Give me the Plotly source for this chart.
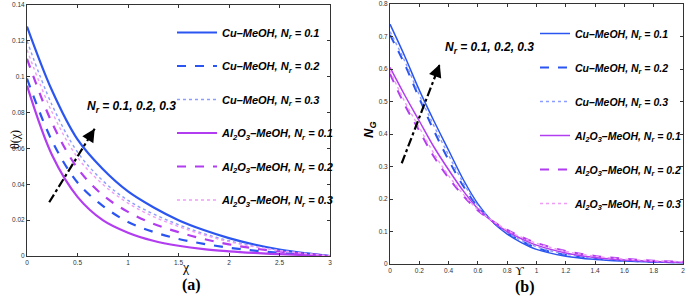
import plotly.graph_objects as go

# ---------------- data: panel (a) ----------------
chi = [0, 0.25, 0.5, 0.75, 1, 1.25, 1.5, 1.75, 2, 2.25, 2.5, 2.75, 3]
theta_cu_01 = [0.128, 0.092, 0.065, 0.0485, 0.036, 0.0272, 0.020, 0.0145, 0.0100, 0.0064, 0.0036, 0.0016, 0]
theta_cu_02 = [0.099, 0.064, 0.041, 0.028, 0.019, 0.0135, 0.0095, 0.0068, 0.0046, 0.003, 0.0018, 0.0008, 0]
theta_cu_03 = [0.120, 0.084, 0.058, 0.042, 0.031, 0.0235, 0.0175, 0.0125, 0.0085, 0.0055, 0.0032, 0.0015, 0]
theta_al_01 = [0.095, 0.056, 0.033, 0.020, 0.013, 0.0085, 0.0057, 0.0038, 0.0026, 0.0017, 0.001, 0.0005, 0]
theta_al_02 = [0.110, 0.074, 0.049, 0.034, 0.0246, 0.018, 0.0133, 0.0095, 0.0065, 0.0042, 0.0025, 0.0012, 0]
theta_al_03 = [0.115, 0.080, 0.055, 0.040, 0.0295, 0.022, 0.0165, 0.0118, 0.008, 0.0052, 0.003, 0.0014, 0]

# ---------------- data: panel (b) ----------------
ups = [0, 0.1, 0.2, 0.3, 0.4, 0.5, 0.6, 0.7, 0.8, 0.9, 1.0, 1.2, 1.4, 1.6, 1.8, 2.0]
ng_cu_01 = [0.738, 0.64, 0.535, 0.44, 0.35, 0.26, 0.185, 0.13, 0.092, 0.065, 0.045, 0.024, 0.014, 0.009, 0.006, 0.004]
ng_cu_02 = [0.705, 0.615, 0.51, 0.41, 0.32, 0.24, 0.175, 0.13, 0.095, 0.07, 0.05, 0.028, 0.017, 0.011, 0.007, 0.005]
ng_cu_03 = [0.715, 0.625, 0.52, 0.425, 0.335, 0.25, 0.18, 0.132, 0.097, 0.072, 0.053, 0.03, 0.018, 0.012, 0.008, 0.005]
ng_al_01 = [0.605, 0.52, 0.44, 0.36, 0.29, 0.225, 0.17, 0.13, 0.10, 0.077, 0.058, 0.034, 0.02, 0.012, 0.008, 0.005]
ng_al_02 = [0.585, 0.49, 0.41, 0.33, 0.265, 0.21, 0.165, 0.132, 0.105, 0.083, 0.065, 0.04, 0.025, 0.016, 0.01, 0.007]
ng_al_03 = [0.595, 0.50, 0.42, 0.34, 0.272, 0.215, 0.167, 0.133, 0.104, 0.082, 0.064, 0.039, 0.024, 0.015, 0.01, 0.007]

names = ["Cu–MeOH, N<sub>r</sub> = 0.1", "Cu–MeOH, N<sub>r</sub> = 0.2", "Cu–MeOH, N<sub>r</sub> = 0.3",
         "Al<sub>2</sub>O<sub>3</sub>–MeOH, N<sub>r</sub> = 0.1",
         "Al<sub>2</sub>O<sub>3</sub>–MeOH, N<sub>r</sub> = 0.2",
         "Al<sub>2</sub>O<sub>3</sub>–MeOH, N<sub>r</sub> = 0.3"]

# arrow (direction of increasing N_r) in data units
arrow_a_x = [0.22, 0.67]
arrow_a_y = [0.030, 0.071]
arrow_b_x = [0.08, 0.34]
arrow_b_y = [0.31, 0.615]

x_ticks_a = [0, 0.5, 1, 1.5, 2, 2.5, 3]
y_ticks_a = [0, 0.02, 0.04, 0.06, 0.08, 0.1, 0.12, 0.14]
x_ticks_b = [0, 0.2, 0.4, 0.6, 0.8, 1, 1.2, 1.4, 1.6, 1.8, 2]
y_ticks_b = [0, 0.1, 0.2, 0.3, 0.4, 0.5, 0.6, 0.7, 0.8]

BLUE = "#2b55f0"
BLUE_L = "#8c9cff"
MAG = "#b23cf0"
PINK = "#ef9cf7"

styles = [
    dict(color=BLUE, dash="solid"),
    dict(color=BLUE, dash="dash"),
    dict(color=BLUE_L, dash="dot"),
    dict(color=MAG, dash="solid"),
    dict(color=MAG, dash="dash"),
    dict(color=PINK, dash="dot"),
]

fig = go.Figure()

series_a = [theta_cu_01, theta_cu_02, theta_cu_03, theta_al_01, theta_al_02, theta_al_03]
series_b = [ng_cu_01, ng_cu_02, ng_cu_03, ng_al_01, ng_al_02, ng_al_03]

for i, (ys, st) in enumerate(zip(series_a, styles)):
    fig.add_trace(go.Scatter(
        x=chi, y=ys, mode="lines", name=names[i], line_shape="spline",
        line=dict(color=st["color"], dash=st["dash"], width=2.2 if st["dash"] != "dot" else 1.4),
        xaxis="x", yaxis="y", legend="legend", legendgroup="a%d" % i))

for i, (ys, st) in enumerate(zip(series_b, styles)):
    fig.add_trace(go.Scatter(
        x=ups, y=ys, mode="lines", name=names[i], line_shape="spline",
        line=dict(color=st["color"], dash=st["dash"], width=1.5 if st["dash"] == "solid" else (2.0 if st["dash"] == "dash" else 1.4)),
        xaxis="x2", yaxis="y2", legend="legend2", legendgroup="b%d" % i))

# arrows as dash-dot lines
fig.add_trace(go.Scatter(x=arrow_a_x, y=arrow_a_y, mode="lines", showlegend=False,
                         line=dict(color="black", dash="dashdot", width=2.2), xaxis="x", yaxis="y"))
fig.add_trace(go.Scatter(x=arrow_b_x, y=arrow_b_y, mode="lines", showlegend=False,
                         line=dict(color="black", dash="dashdot", width=2.2), xaxis="x2", yaxis="y2"))

ann = []
# arrow heads
ann.append(dict(x=arrow_a_x[1], y=arrow_a_y[1], ax=arrow_a_x[0] + (arrow_a_x[1] - arrow_a_x[0]) * 0.9,
                ay=arrow_a_y[0] + (arrow_a_y[1] - arrow_a_y[0]) * 0.9, xref="x", yref="y", axref="x", ayref="y",
                showarrow=True, arrowhead=2, arrowsize=1.3, arrowwidth=2, arrowcolor="black", text=""))
ann.append(dict(x=arrow_b_x[1], y=arrow_b_y[1], ax=arrow_b_x[0] + (arrow_b_x[1] - arrow_b_x[0]) * 0.9,
                ay=arrow_b_y[0] + (arrow_b_y[1] - arrow_b_y[0]) * 0.9, xref="x2", yref="y2", axref="x2", ayref="y2",
                showarrow=True, arrowhead=2, arrowsize=1.3, arrowwidth=2, arrowcolor="black", text=""))

lab_font = dict(family="Liberation Sans, Arial", size=12, color="black", weight="bold", style="italic")
ann.append(dict(x=0.575, y=0.083, xref="x", yref="y", xanchor="left", yanchor="middle", showarrow=False,
                text="N<sub>r</sub> = 0.1, 0.2, 0.3", font=lab_font))
ann.append(dict(x=0.36, y=0.665, xref="x2", yref="y2", xanchor="left", yanchor="middle", showarrow=False,
                text="N<sub>r</sub> = 0.1, 0.2, 0.3", font=lab_font))

# axis titles and captions
serif = "Liberation Serif, Times New Roman"
ann.append(dict(x=6 / 685, y=1 - 140 / 307, xref="paper", yref="paper", text="θ(χ)", textangle=-90,
                showarrow=False, font=dict(family=serif, size=12, color="black")))
ann.append(dict(x=180 / 685, y=1 - 277 / 307, xref="paper", yref="paper", text="χ",
                showarrow=False, font=dict(family=serif, size=14, color="black")))
ann.append(dict(x=369 / 685, y=1 - 130 / 307, xref="paper", yref="paper", text="N<sub>G</sub>", textangle=-90,
                showarrow=False, font=dict(family="Liberation Sans, Arial", size=13, color="black", weight="bold", style="italic")))
ann.append(dict(x=526 / 685, y=1 - 280 / 307, xref="paper", yref="paper", text="ϒ",
                showarrow=False, font=dict(family=serif, size=12, color="black")))
ann.append(dict(x=180 / 685, y=1 - 296 / 307, xref="paper", yref="paper", text="<b>(a)</b>",
                showarrow=False, font=dict(family=serif, size=16, color="black")))
ann.append(dict(x=537 / 685, y=1 - 298 / 307, xref="paper", yref="paper", text="<b>(b)</b>",
                showarrow=False, font=dict(family=serif, size=16, color="black")))

axis_common = dict(showline=True, mirror="ticks", linecolor="#333", linewidth=1, ticks="inside", ticklen=3,
                   tickcolor="#333", showgrid=False, zeroline=False, automargin=False,
                   ticklabeloverflow="allow",
                   tickfont=dict(family="Liberation Sans, Arial", size=6.5, color="#333"))

leg_font = dict(family="Liberation Sans, Arial", size=11, color="black", weight="bold", style="italic")
leg_font2 = dict(family="Liberation Sans, Arial", size=10.5, color="black", weight="bold", style="italic")

fig.update_layout(
    width=685, height=307, margin=dict(l=0, r=0, t=0, b=0, pad=0, autoexpand=False),
    paper_bgcolor="white", plot_bgcolor="white",
    xaxis=dict(domain=[27 / 685, 330 / 685], range=[0, 3], tickvals=x_ticks_a, anchor="y", **axis_common),
    yaxis=dict(domain=[1 - 256 / 307, 1 - 5 / 307], range=[0, 0.14], tickvals=y_ticks_a, anchor="x", **axis_common),
    xaxis2=dict(domain=[390 / 685, 683 / 685], range=[0, 2], tickvals=x_ticks_b, anchor="y2", **axis_common),
    yaxis2=dict(domain=[1 - 264 / 307, 1 - 4 / 307], range=[0, 0.8], tickvals=y_ticks_b, anchor="x2", **axis_common),
    legend=dict(x=172 / 685, y=1 - 18 / 307, xanchor="left", yanchor="top", bgcolor="rgba(0,0,0,0)",
                font=leg_font, tracegroupgap=14.5, itemwidth=40),
    legend2=dict(x=535 / 685, y=1 - 19 / 307, xanchor="left", yanchor="top", bgcolor="rgba(0,0,0,0)",
                 font=leg_font2, tracegroupgap=15, itemwidth=30),
    annotations=ann,
    showlegend=True,
)

fig.write_html("out.html", config={"displayModeBar": False},
               post_script="document.body.style.margin='0';document.body.style.padding='0';")
